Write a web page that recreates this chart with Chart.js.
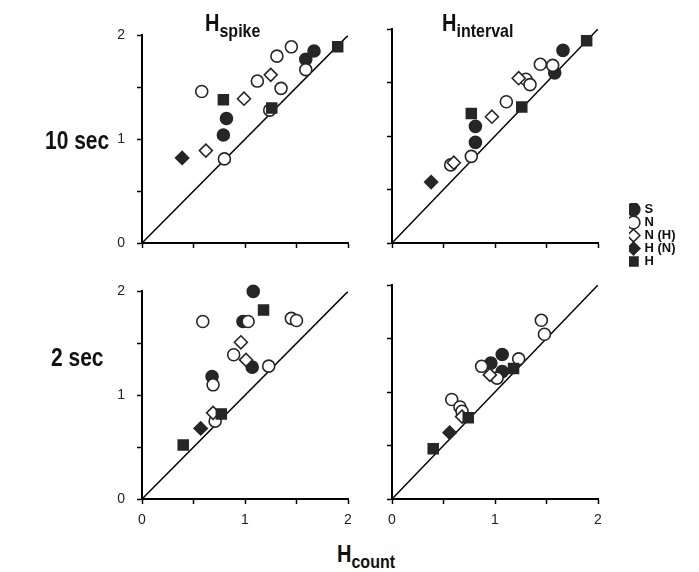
<!DOCTYPE html>
<html>
<head>
<meta charset="utf-8">
<script src="https://cdn.jsdelivr.net/npm/chart.js@4"></script>
<style>
  body { margin: 0; background: #fff; font-family: "Liberation Sans", Arial, sans-serif; color: #111; }
  #wrap { position: relative; width: 699px; height: 572px; overflow: hidden; }
  canvas { position: absolute; }
  .lbl { position: absolute; font-weight: bold; white-space: nowrap; transform: scaleY(1.2); transform-origin: left top; line-height: 1; }
  .big { font-size: 20px; }
  .big sub { font-size: 16px; vertical-align: -5px; }
  .row { font-size: 21px; }
</style>
</head>
<body>
<div id="wrap">
  <canvas id="pA" width="260" height="260" style="left:100px;top:15px"></canvas>
  <canvas id="pB" width="260" height="260" style="left:350px;top:15px"></canvas>
  <canvas id="pC" width="260" height="260" style="left:100px;top:271px"></canvas>
  <canvas id="pD" width="260" height="260" style="left:350px;top:271px"></canvas>
  <canvas id="legend" width="75" height="80" style="left:629px;top:203px"></canvas>

  <div class="lbl big" style="left:205px;top:11px">H<sub>spike</sub></div>
  <div class="lbl big" style="left:442px;top:11px">H<sub>interval</sub></div>
  <div class="lbl row" style="left:45px;top:127px">10 sec</div>
  <div class="lbl row" style="left:51px;top:344px">2 sec</div>
  <div class="lbl big" style="left:337px;top:542px">H<sub>count</sub></div>
</div>

<script>
// ========== DATA ==========
const seriesNames = ['S', 'N', 'N (H)', 'H (N)', 'H'];
const tickLabels = ['0', '1', '2'];

// panel A: 10 sec, H_spike vs H_count
const A_S  = [[0.82, 1.20], [0.79, 1.04], [1.59, 1.77], [1.67, 1.85]];
const A_N  = [[0.58, 1.46], [0.80, 0.81], [1.12, 1.56], [1.31, 1.80], [1.45, 1.89], [1.35, 1.49], [1.59, 1.67], [1.24, 1.28]];
const A_NH = [[0.62, 0.89], [0.99, 1.39], [1.25, 1.62]];
const A_HN = [[0.39, 0.82]];
const A_H  = [[0.79, 1.38], [1.26, 1.30], [1.90, 1.89]];

// panel B: 10 sec, H_interval vs H_count
const B_S  = [[0.81, 1.09], [0.81, 0.94], [1.66, 1.80], [1.58, 1.59]];
const B_N  = [[0.77, 0.81], [0.57, 0.73], [1.11, 1.32], [1.30, 1.53], [1.34, 1.48], [1.44, 1.67], [1.56, 1.66]];
const B_NH = [[0.60, 0.75], [0.97, 1.18], [1.23, 1.54]];
const B_HN = [[0.38, 0.57]];
const B_H  = [[0.77, 1.21], [1.26, 1.27], [1.89, 1.89]];

// panel C: 2 sec, H_spike vs H_count
const C_S  = [[1.08, 2.00], [0.98, 1.71], [0.68, 1.18], [1.07, 1.27]];
const C_N  = [[0.59, 1.71], [1.03, 1.71], [1.45, 1.74], [1.50, 1.72], [0.89, 1.39], [1.23, 1.28], [0.69, 1.10], [0.71, 0.75]];
const C_NH = [[0.96, 1.51], [1.01, 1.34], [0.69, 0.83]];
const C_HN = [[0.57, 0.68]];
const C_H  = [[1.18, 1.82], [0.77, 0.82], [0.40, 0.52]];

// panel D: 2 sec, H_interval vs H_count
const D_S  = [[0.96, 1.27], [1.07, 1.35], [1.07, 1.19]];
const D_N  = [[1.45, 1.67], [1.48, 1.54], [1.23, 1.31], [0.87, 1.24], [0.58, 0.93], [0.66, 0.86], [0.68, 0.82], [1.02, 1.13]];
const D_NH = [[0.95, 1.16], [0.68, 0.77]];
const D_HN = [[0.56, 0.62]];
const D_H  = [[0.40, 0.47], [0.74, 0.76], [1.18, 1.22]];

const identity = [[0, 0], [2, 2]];

// ========== STYLES ==========
const DARK = '#262626';
const markerStyles = {
    'S':     { pointStyle: 'circle',  radius: 6,   fill: DARK },
    'N':     { pointStyle: 'circle',  radius: 6,   fill: '#fff' },
    'N (H)': { pointStyle: 'rectRot', radius: 6.5, fill: '#fff' },
    'H (N)': { pointStyle: 'rectRot', radius: 6.5, fill: DARK },
    'H':     { pointStyle: 'rect',    radius: 7,   fill: DARK }
};

function toPoints(arr) {
    return arr.map(p => ({ x: p[0], y: p[1] }));
}

function markerDataset(name, arr) {
    const st = markerStyles[name];
    return {
        label: name,
        data: toPoints(arr),
        pointStyle: st.pointStyle,
        pointRadius: st.radius,
        pointBackgroundColor: st.fill,
        pointBorderColor: DARK,
        pointBorderWidth: 1.6,
        backgroundColor: st.fill,
        borderColor: DARK,
        borderWidth: 1.6,
        clip: false
    };
}

function tickCallback(value) {
    return Number.isInteger(value) ? tickLabels[value] : '';
}

function axisOptions(showLabels, isX) {
    return {
        type: 'linear',
        min: 0,
        max: 2,
        ticks: {
            display: showLabels,
            stepSize: 0.5,
            autoSkip: false,
            maxRotation: 0,
            callback: tickCallback,
            color: '#222',
            font: { family: '"Liberation Sans", Arial, sans-serif', size: 14 },
            padding: isX ? 8 : 12
        },
        grid: {
            drawOnChartArea: false,
            drawTicks: true,
            tickLength: 5,
            tickColor: '#000',
            tickWidth: 1.5
        },
        border: { display: true, color: '#000', width: 2 },
        afterFit: isX ? (s => { s.height = 32; }) : (s => { s.width = 42; })
    };
}

// ========== PANELS ==========
function makePanel(id, S, N, NH, HN, H, showY, showX) {
    const ctx = document.getElementById(id);
    if (!ctx) return;

    // first dataset ends up on top
    const datasets = [
        markerDataset('H', H),
        markerDataset('H (N)', HN),
        markerDataset('N (H)', NH),
        markerDataset('N', N),
        markerDataset('S', S),
        {
            label: 'identity',
            data: toPoints(identity),
            showLine: true,
            pointRadius: 0,
            borderColor: '#000',
            borderWidth: 1.5,
            fill: false
        }
    ];

    new Chart(ctx, {
        type: 'scatter',
        data: { datasets: datasets },
        options: {
            responsive: false,
            animation: false,
            layout: { padding: { top: 14, right: 12, left: 0, bottom: 0 } },
            plugins: {
                legend: { display: false },
                tooltip: { enabled: false }
            },
            scales: {
                x: axisOptions(showX, true),
                y: axisOptions(showY, false)
            }
        }
    });
}

function makeLegend() {
    const ctx = document.getElementById('legend');
    if (!ctx) return;

    new Chart(ctx, {
        type: 'scatter',
        data: { datasets: seriesNames.map(n => markerDataset(n, [])) },
        options: {
            responsive: false,
            animation: false,
            scales: { x: { display: false }, y: { display: false } },
            plugins: {
                tooltip: { enabled: false },
                legend: {
                    position: 'left',
                    align: 'start',
                    maxWidth: 75,
                    labels: {
                        usePointStyle: true,
                        boxWidth: 9,
                        boxHeight: 9,
                        padding: 0,
                        color: '#111',
                        font: { family: '"Liberation Sans", Arial, sans-serif', size: 13, weight: 'bold' }
                    }
                }
            }
        }
    });
}

makePanel('pA', A_S, A_N, A_NH, A_HN, A_H, true, false);
makePanel('pB', B_S, B_N, B_NH, B_HN, B_H, false, false);
makePanel('pC', C_S, C_N, C_NH, C_HN, C_H, true, true);
makePanel('pD', D_S, D_N, D_NH, D_HN, D_H, false, true);
makeLegend();
</script>
</body>
</html>
